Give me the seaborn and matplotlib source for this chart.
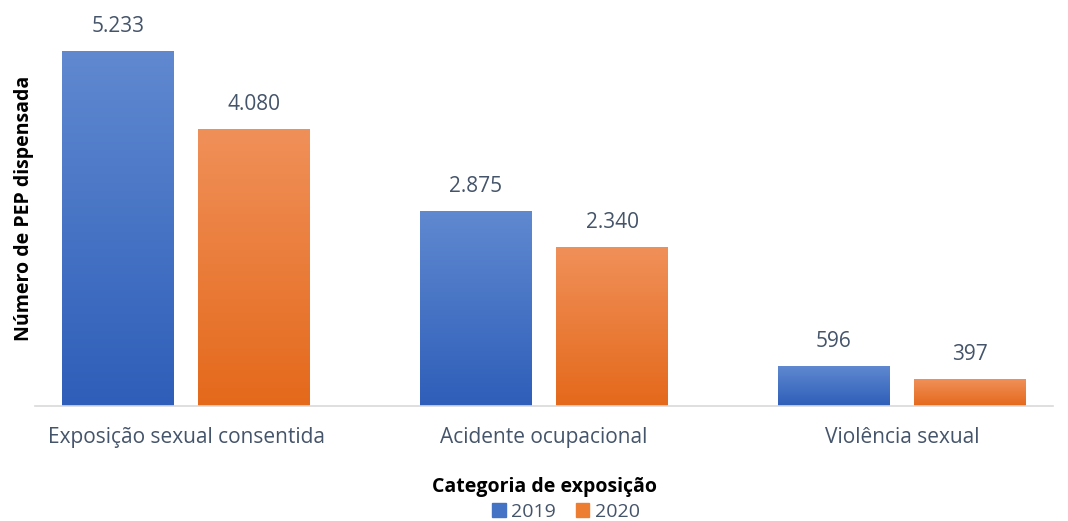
import matplotlib
matplotlib.use("Agg")
import matplotlib.pyplot as plt
import matplotlib.patches as mpatches
from matplotlib.colors import LinearSegmentedColormap
import numpy as np
import pandas as pd
import seaborn as sns

categories = ["Exposição sexual consentida", "Acidente ocupacional", "Violência sexual"]
years = ["2019", "2020"]
values_2019 = [5233, 2875, 596]
values_2020 = [4080, 2340, 397]

df = pd.DataFrame({
    "Categoria": categories * 2,
    "Ano": [years[0]] * 3 + [years[1]] * 3,
    "Valor": values_2019 + values_2020,
})

sns.set_theme(style="white")
plt.rcParams["font.family"] = ["Open Sans", "DejaVu Sans"]

TEXT = "#44546A"
base_colors = {"2019": "#4472C4", "2020": "#ED7D31"}
grad = {
    "2019": ("#6089D0", "#2E5EB9"),
    "2020": ("#F09059", "#E4691B"),
}

fig = plt.figure(figsize=(10.68, 5.21), dpi=100)
W, H = 1068, 521
ax = fig.add_axes([35 / W, (H - 406) / H, (1053 - 35) / W, (406 - 10) / H])

sns.barplot(data=df, x="Categoria", y="Valor", hue="Ano", palette=base_colors,
            width=0.76, gap=0.18, ax=ax, legend=False, errorbar=None)

# gradient fill inside bars
for container, yr in zip(ax.containers, years):
    cmap = LinearSegmentedColormap.from_list(yr, [grad[yr][1], grad[yr][0]])
    for bar, v in zip(container, df[df["Ano"] == yr]["Valor"]):
        x0, y0 = bar.get_x(), bar.get_y()
        w, h = bar.get_width(), bar.get_height()
        img = ax.imshow(np.linspace(0, 1, 256).reshape(-1, 1), cmap=cmap,
                        extent=[x0, x0 + w, y0, y0 + h], origin="lower",
                        aspect="auto", zorder=bar.get_zorder() + 0.1)
        img.set_clip_path(bar)
        lbl = f"{v:,}".replace(",", ".")
        ax.annotate(lbl, (x0 + w / 2, y0 + h), xytext=(0, 10), textcoords="offset points",
                    ha="center", va="bottom", fontsize=15, color=TEXT)
ax.set_xlim(-0.4218, 2.4218)
ax.set_ylim(0, 5233 * 396 / 355)
ax.set_aspect("auto")

for s in ["top", "right", "left"]:
    ax.spines[s].set_visible(False)
ax.spines["bottom"].set_color("#D9D9D9")
ax.spines["bottom"].set_linewidth(1.2)
ax.set_yticks([])
ax.tick_params(axis="x", length=0, pad=15, labelsize=15, labelcolor=TEXT)

ax.set_xlabel("Categoria de exposição", fontsize=14, fontweight="bold", color="black", labelpad=21)
ax.set_ylabel("Número de PEP dispensada", fontsize=14, fontweight="bold", color="black", labelpad=1)

handles = [mpatches.Patch(color=base_colors[y], label=y) for y in years]
fig.legend(handles=handles, loc="center", bbox_to_anchor=(566 / W, (H - 512) / H), ncol=2,
           frameon=False, fontsize=14, labelcolor=TEXT, handlelength=0.7, handleheight=0.7,
           handletextpad=0.3, columnspacing=1.0, borderpad=0)

fig.savefig("out.png", dpi=100)
